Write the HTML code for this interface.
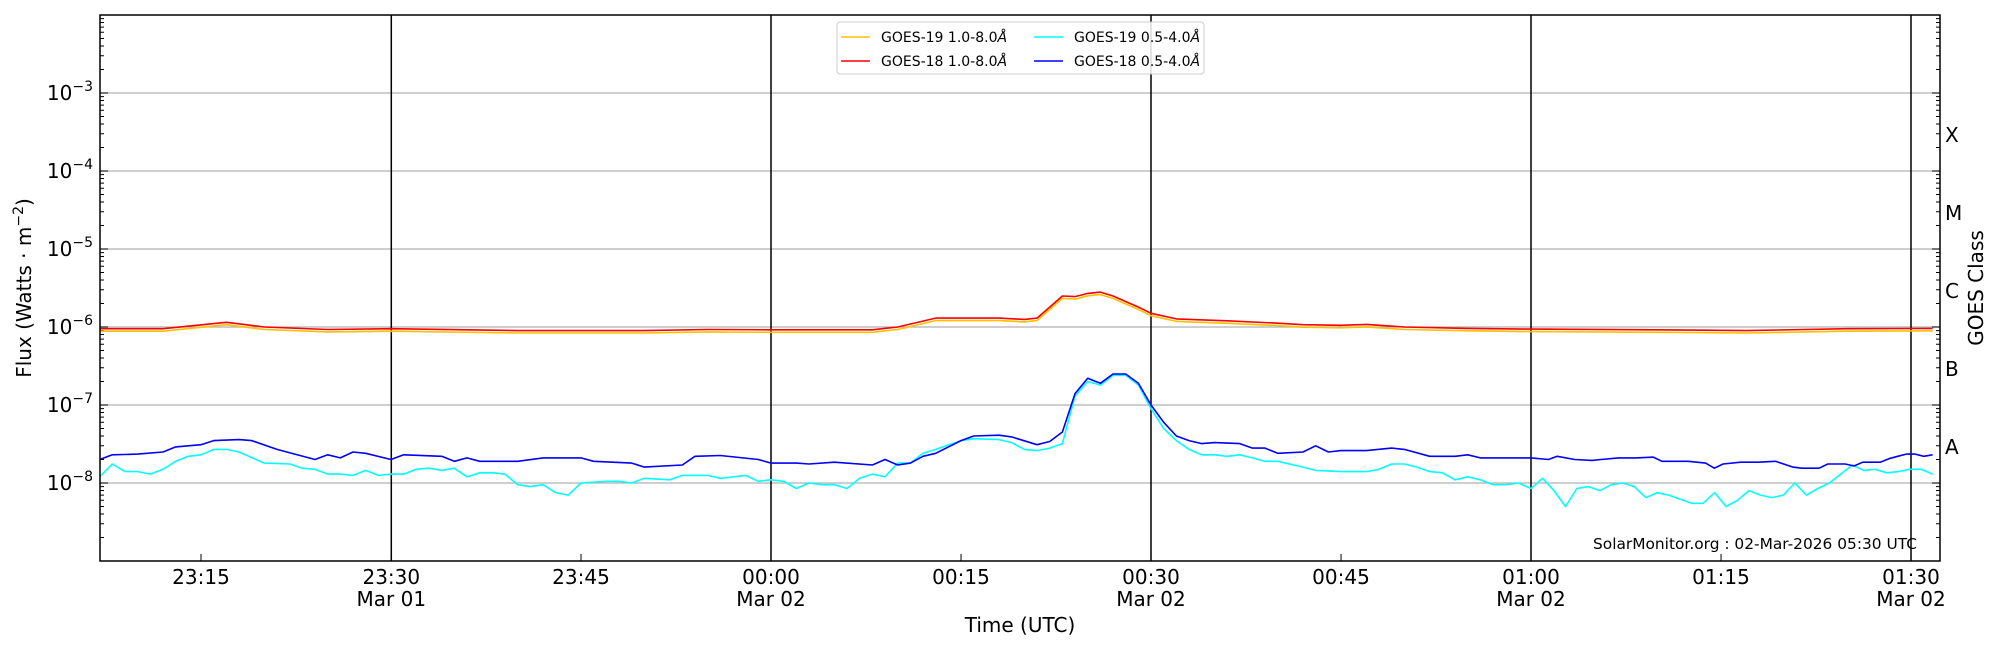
<!DOCTYPE html>
<html><head><meta charset="utf-8"><style>
html,body{margin:0;padding:0;background:#fff;width:2000px;height:650px;overflow:hidden}
svg{display:block;font-family:"DejaVu Sans","Liberation Sans",sans-serif}
</style></head><body>
<svg id="s" width="2000" height="650" viewBox="0 0 2000 650" xmlns="http://www.w3.org/2000/svg">
<g id="grid" stroke="#b0b0b0" stroke-width="1.2">
<line x1="100" x2="1940" y1="93" y2="93"/><line x1="100" x2="1940" y1="171" y2="171"/>
<line x1="100" x2="1940" y1="249" y2="249"/><line x1="100" x2="1940" y1="327" y2="327"/>
<line x1="100" x2="1940" y1="405" y2="405"/><line x1="100" x2="1940" y1="483" y2="483"/>
</g>
<g stroke="#000" stroke-width="1.5">
<line x1="391.3" x2="391.3" y1="15" y2="561"/><line x1="771" x2="771" y1="15" y2="561"/>
<line x1="1151" x2="1151" y1="15" y2="561"/><line x1="1531" x2="1531" y1="15" y2="561"/>
<line x1="1911" x2="1911" y1="15" y2="561"/>
</g>
<g id="ticks" stroke="#000" stroke-width="1"></g>
<g id="series" fill="none" stroke-width="1.6" stroke-linejoin="round"></g>
<rect x="100" y="15" width="1840" height="546" fill="none" stroke="#000" stroke-width="1.5"/>
<g font-size="20" text-anchor="end" fill="#000">
<text x="93" y="100">10<tspan font-size="14" dy="-9">−3</tspan></text>
<text x="93" y="178">10<tspan font-size="14" dy="-9">−4</tspan></text>
<text x="93" y="256">10<tspan font-size="14" dy="-9">−5</tspan></text>
<text x="93" y="334">10<tspan font-size="14" dy="-9">−6</tspan></text>
<text x="93" y="412">10<tspan font-size="14" dy="-9">−7</tspan></text>
<text x="93" y="490">10<tspan font-size="14" dy="-9">−8</tspan></text>
</g>
<g font-size="20" fill="#000">
<text x="1945" y="142">X</text><text x="1945" y="220">M</text><text x="1945" y="298">C</text>
<text x="1945" y="376">B</text><text x="1945" y="454">A</text>
</g>
<text transform="translate(31,288) rotate(-90)" font-size="20" text-anchor="middle">Flux (Watts · m<tspan font-size="14" dy="-8">−2</tspan><tspan dy="8">)</tspan></text>
<text transform="translate(1983,288) rotate(-90)" font-size="20" text-anchor="middle">GOES Class</text>
<g font-size="20" text-anchor="middle" fill="#000">
<text x="201" y="584">23:15</text>
<text x="391.3" y="584">23:30</text><text x="391.3" y="606">Mar 01</text>
<text x="581" y="584">23:45</text>
<text x="771" y="584">00:00</text><text x="771" y="606">Mar 02</text>
<text x="961" y="584">00:15</text>
<text x="1151" y="584">00:30</text><text x="1151" y="606">Mar 02</text>
<text x="1341" y="584">00:45</text>
<text x="1531" y="584">01:00</text><text x="1531" y="606">Mar 02</text>
<text x="1721" y="584">01:15</text>
<text x="1911" y="584">01:30</text><text x="1911" y="606">Mar 02</text>
<text x="1020" y="632">Time (UTC)</text>
</g>
<text x="1917" y="549" font-size="15.4" text-anchor="end">SolarMonitor.org : 02-Mar-2026 05:30 UTC</text>
<g>
<rect x="837" y="22" width="367" height="52" rx="3" fill="#fff" fill-opacity="0.85" stroke="#ccc"/>
<line x1="841" x2="870" y1="37" y2="37" stroke="#ffc000" stroke-width="1.6"/>
<line x1="841" x2="870" y1="61" y2="61" stroke="#ff0000" stroke-width="1.6"/>
<line x1="1034" x2="1063" y1="37" y2="37" stroke="#00ffff" stroke-width="1.6"/>
<line x1="1034" x2="1063" y1="61" y2="61" stroke="#0000ff" stroke-width="1.6"/>
<g font-size="14"><text x="881" y="42">GOES-19 1.0-8.0<tspan font-style="italic">Å</tspan></text>
<text x="881" y="66">GOES-18 1.0-8.0<tspan font-style="italic">Å</tspan></text>
<text x="1074" y="42">GOES-19 0.5-4.0<tspan font-style="italic">Å</tspan></text>
<text x="1074" y="66">GOES-18 0.5-4.0<tspan font-style="italic">Å</tspan></text></g>
</g>
</svg>
<script>
var NS="http://www.w3.org/2000/svg";
function X(t){return 201+(t-15)*12.667;}
function Y(v){return 15+(-2-Math.log10(v))*78;}
var tk=document.getElementById('ticks'),s="";
for(var d=-9;d<=-3;d++){for(var m=1;m<10;m++){var v=m*Math.pow(10,d);var y=Y(v);if(y<15||y>561)continue;var L=m==1?8:4;
s+="M100 "+y+"h"+L+"M1940 "+y+"h"+(-L);}}
[15,30,45,60,75,90,105,120,135,150].forEach(function(t){s+="M"+X(t)+" 561v-7";});
var p=document.createElementNS(NS,'path');p.setAttribute('d',s);tk.appendChild(p);
function series(pts,col){var g=document.getElementById('series');var d="";
pts.forEach(function(q,i){d+=(i?"L":"M")+X(q[0]).toFixed(1)+" "+Y(q[1]).toFixed(1);});
var e=document.createElementNS(NS,'path');e.setAttribute('d',d);e.setAttribute('stroke',col);g.appendChild(e);}
function mk(a){var r=[];for(var i=0;i<a.length;i+=2){r.push([a[i],a[i+1]]);}return r;}
function tail(pts,end){var last=pts[pts.length-1][0];var f=(151.7-120)/(last-120);
return pts.map(function(q){return [q[0]>120?120+(q[0]-120)*f:q[0],q[1]];});}
var red=mk([7,.95e-6,12,.95e-6,17,1.15e-6,20,1e-6,25,.93e-6,30,.95e-6,40,.9e-6,50,.9e-6,55,.93e-6,60,.92e-6,68,.92e-6,70,1e-6,73,1.3e-6,78,1.3e-6,80,1.25e-6,81,1.3e-6,82,1.8e-6,83,2.5e-6,84,2.45e-6,85,2.7e-6,86,2.8e-6,87,2.5e-6,89,1.8e-6,90,1.5e-6,92,1.27e-6,96,1.2e-6,100,1.12e-6,102,1.07e-6,105,1.05e-6,107,1.08e-6,110,1e-6,115,.96e-6,120,.94e-6,130,.92e-6,137,.9e-6,145,.95e-6,151.7,.96e-6]);
var yel=red.map(function(q){return [q[0],q[1]*0.93];});
var blue=tail(mk([7,2e-8,8,2.3e-8,10,2.35e-8,12,2.5e-8,13,2.9e-8,15,3.1e-8,16,3.5e-8,18,3.6e-8,19,3.5e-8,21,2.7e-8,24,2e-8,25,2.3e-8,26,2.1e-8,27,2.5e-8,28,2.4e-8,30,2e-8,31,2.3e-8,34,2.2e-8,35,1.9e-8,36,2.1e-8,37,1.9e-8,40,1.9e-8,42,2.1e-8,44,2.1e-8,45,2.1e-8,46,1.9e-8,49,1.8e-8,50,1.6e-8,53,1.7e-8,54,2.2e-8,56,2.25e-8,59,2e-8,60,1.8e-8,62,1.8e-8,63,1.75e-8,65,1.85e-8,68,1.7e-8,69,2e-8,70,1.7e-8,71,1.8e-8,72,2.2e-8,73,2.4e-8,75,3.5e-8,76,4e-8,78,4.1e-8,79,3.9e-8,81,3.1e-8,82,3.4e-8,83,4.5e-8,84,1.4e-7,85,2.2e-7,86,1.9e-7,87,2.5e-7,88,2.5e-7,89,1.9e-7,90,1e-7,91,6e-8,92,4e-8,93,3.5e-8,94,3.2e-8,95,3.3e-8,97,3.2e-8,98,2.8e-8,99,2.8e-8,100,2.4e-8,102,2.5e-8,103,3e-8,104,2.5e-8,105,2.6e-8,107,2.6e-8,109,2.8e-8,110,2.7e-8,112,2.2e-8,114,2.2e-8,115,2.3e-8,116,2.1e-8,120,2.1e-8,122,2e-8,123,2.2e-8,125,2e-8,127,1.95e-8,128,2e-8,130,2.1e-8,132,2.1e-8,134,2.15e-8,135,1.9e-8,138,1.9e-8,140,1.8e-8,141,1.55e-8,142,1.75e-8,144,1.85e-8,146,1.85e-8,148,1.9e-8,150,1.6e-8,151,1.55e-8,153,1.55e-8,154,1.75e-8,156,1.75e-8,157,1.65e-8,158,1.85e-8,160,1.85e-8,161,2.05e-8,162,2.2e-8,163,2.35e-8,164,2.35e-8,165,2.2e-8,166,2.3e-8]));
var cyan=tail(mk([7,1.2e-8,8,1.75e-8,9,1.4e-8,10,1.4e-8,11,1.3e-8,12,1.5e-8,13,1.9e-8,14,2.2e-8,15,2.3e-8,16,2.7e-8,17,2.7e-8,18,2.5e-8,20,1.8e-8,22,1.75e-8,23,1.55e-8,24,1.5e-8,25,1.3e-8,26,1.3e-8,27,1.25e-8,28,1.45e-8,29,1.25e-8,30,1.3e-8,31,1.3e-8,32,1.5e-8,33,1.55e-8,34,1.45e-8,35,1.55e-8,36,1.2e-8,37,1.35e-8,38,1.35e-8,39,1.3e-8,40,0.95e-8,41,0.9e-8,42,0.95e-8,43,0.75e-8,44,0.7e-8,45,1e-8,47,1.05e-8,48,1.05e-8,49,1e-8,50,1.15e-8,52,1.1e-8,53,1.25e-8,55,1.25e-8,56,1.15e-8,58,1.25e-8,59,1.05e-8,60,1.1e-8,61,1.05e-8,62,0.85e-8,63,1e-8,64,0.95e-8,65,0.95e-8,66,0.85e-8,67,1.15e-8,68,1.3e-8,69,1.2e-8,70,1.8e-8,71,1.8e-8,72,2.4e-8,73,2.7e-8,75,3.5e-8,76,3.7e-8,78,3.6e-8,79,3.3e-8,80,2.7e-8,81,2.6e-8,82,2.8e-8,83,3.2e-8,84,1.3e-7,85,2e-7,86,1.8e-7,87,2.4e-7,88,2.4e-7,89,1.8e-7,90,9e-8,91,5e-8,92,3.5e-8,93,2.7e-8,94,2.3e-8,95,2.3e-8,96,2.2e-8,97,2.3e-8,98,2.1e-8,99,1.9e-8,100,1.9e-8,102,1.6e-8,103,1.45e-8,105,1.4e-8,107,1.4e-8,108,1.5e-8,109,1.75e-8,110,1.75e-8,111,1.6e-8,112,1.4e-8,113,1.35e-8,114,1.1e-8,115,1.2e-8,116,1.1e-8,117,0.95e-8,118,0.95e-8,119,1e-8,120,0.85e-8,121,1.15e-8,122,0.8e-8,123,0.5e-8,124,0.85e-8,125,0.9e-8,126,0.8e-8,127,0.95e-8,128,1e-8,129,0.9e-8,130,0.65e-8,131,0.75e-8,132,0.7e-8,134,0.55e-8,135,0.55e-8,136,0.75e-8,137,0.5e-8,138,0.6e-8,139,0.8e-8,140,0.7e-8,141,0.65e-8,142,0.7e-8,143,1e-8,144,0.7e-8,145,0.85e-8,146,1e-8,147,1.3e-8,148,1.7e-8,149,1.45e-8,150,1.5e-8,151,1.35e-8,152,1.4e-8,153,1.5e-8,154,1.5e-8,155,1.3e-8]));
series(yel,"#ffc000");series(red,"#ff0000");series(cyan,"#00ffff");series(blue,"#0000ff");
</script>
</body></html>
